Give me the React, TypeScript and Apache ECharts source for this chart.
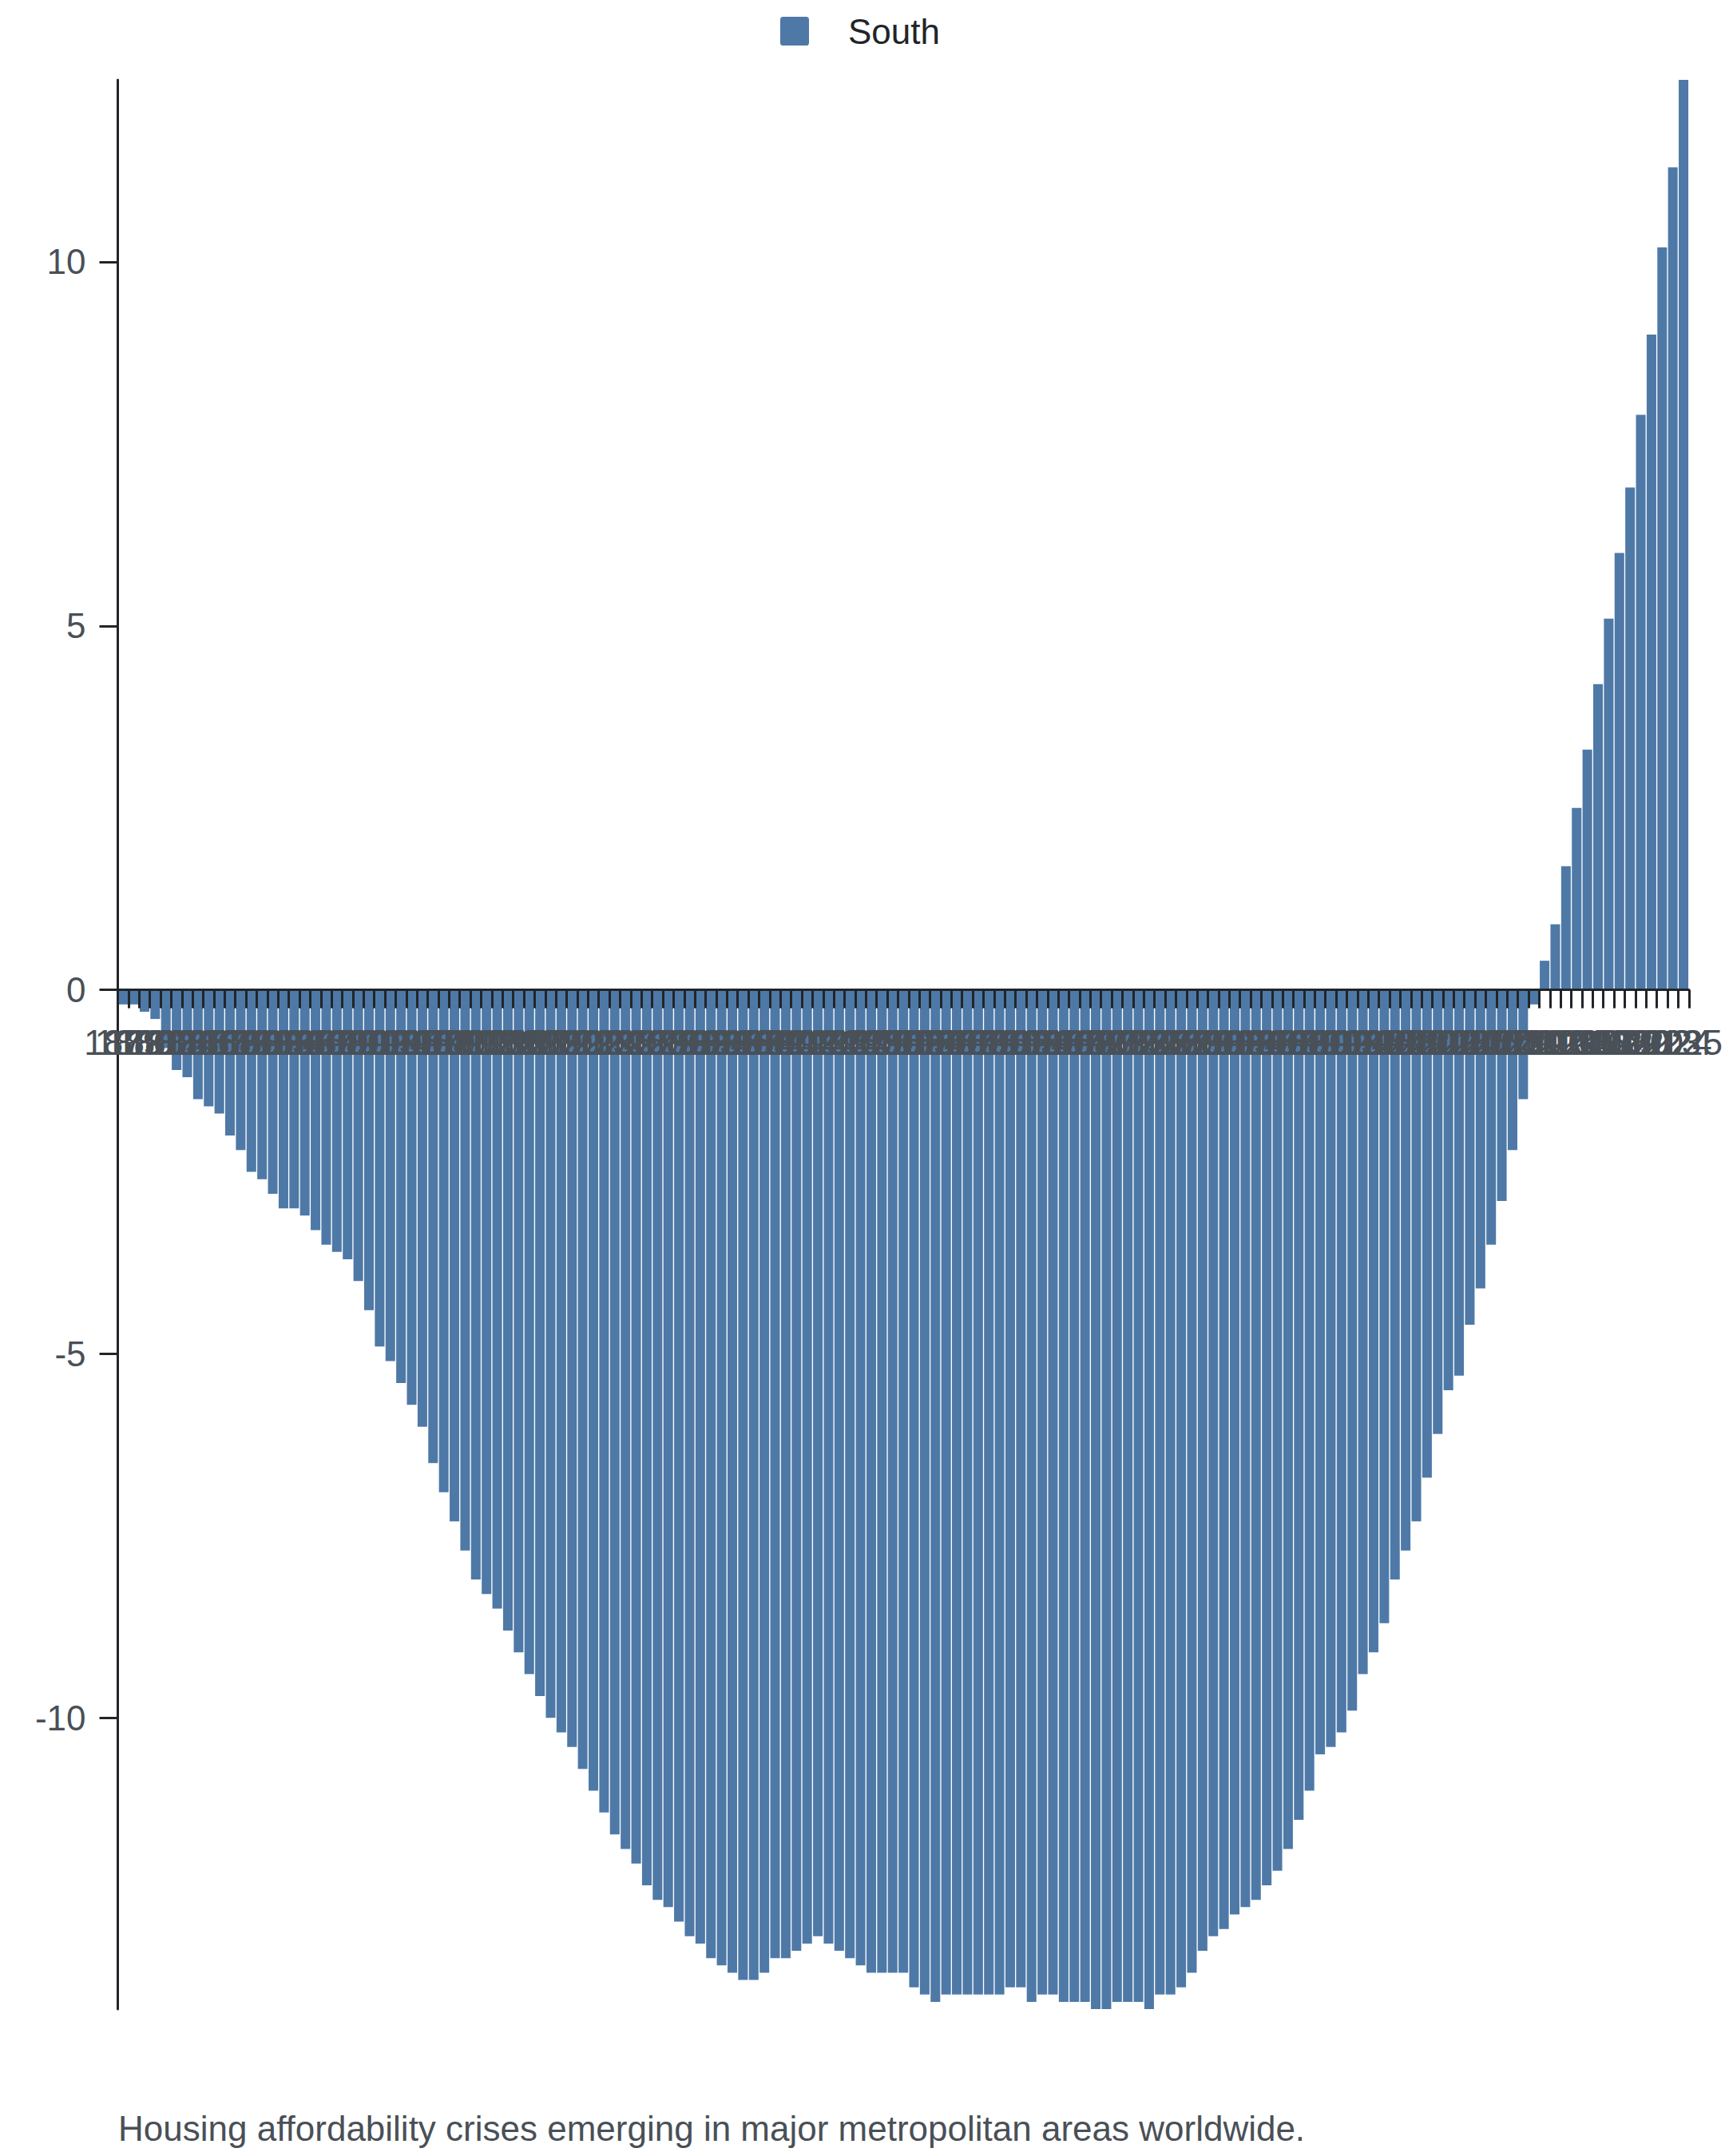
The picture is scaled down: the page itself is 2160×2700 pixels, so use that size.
import React, { useEffect, useRef } from "react";
import * as echarts from "echarts";

const FIRST_YEAR = 1879;

const southValues: number[] = [
  -0.2, -0.2, -0.3, -0.4, -0.8, -1.1, -1.2, -1.5, -1.6, -1.7,
  -2.0, -2.2, -2.5, -2.6, -2.8, -3.0, -3.0, -3.1, -3.3, -3.5,
  -3.6, -3.7, -4.0, -4.4, -4.9, -5.1, -5.4, -5.7, -6.0, -6.5,
  -6.9, -7.3, -7.7, -8.1, -8.3, -8.5, -8.8, -9.1, -9.4, -9.7,
  -10.0, -10.2, -10.4, -10.7, -11.0, -11.3, -11.6, -11.8, -12.0, -12.3,
  -12.5, -12.6, -12.8, -13.0, -13.1, -13.3, -13.4, -13.5, -13.6, -13.6,
  -13.5, -13.3, -13.3, -13.2, -13.1, -13.0, -13.1, -13.2, -13.3, -13.4,
  -13.5, -13.5, -13.5, -13.5, -13.7, -13.8, -13.9, -13.8, -13.8, -13.8,
  -13.8, -13.8, -13.8, -13.7, -13.7, -13.9, -13.8, -13.8, -13.9, -13.9,
  -13.9, -14.0, -14.0, -13.9, -13.9, -13.9, -14.0, -13.8, -13.8, -13.7,
  -13.5, -13.2, -13.0, -12.9, -12.7, -12.6, -12.5, -12.3, -12.1, -11.8,
  -11.4, -11.0, -10.5, -10.4, -10.2, -9.9, -9.4, -9.1, -8.7, -8.1,
  -7.7, -7.3, -6.7, -6.1, -5.5, -5.3, -4.6, -4.1, -3.5, -2.9,
  -2.2, -1.5, -0.2, 0.4, 0.9, 1.7, 2.5, 3.3, 4.2, 5.1,
  6.0, 6.9, 7.9, 9.0, 10.2, 11.3, 12.5,
];

const categories: string[] = southValues.map((_, i) => String(FIRST_YEAR + i));
const yTickValues: number[] = [-10, -5, 0, 5, 10];
const Y_MIN = -14;
const Y_MAX = 12.5;
const seriesName = "South";
const subtitle =
  "Housing affordability crises emerging in major metropolitan areas worldwide.";

const FONT = "'Liberation Sans', Arial, Helvetica, sans-serif";
const FONT_SIZE = 44;
const AXIS_COLOR = "#212529";
const LABEL_COLOR = "#495057";
const BAR_COLOR = "#4e79a7";

const GRID_TOP = 100;
const GRID_BOTTOM = 184;
const CHART_H = 2700;

export default function App() {
  const ref = useRef<HTMLDivElement>(null);

  useEffect(() => {
    document.body.style.margin = "0";
    if (!ref.current) return;
    const chart = echarts.init(ref.current, null, { renderer: "svg" });
    const gridH = CHART_H - GRID_TOP - GRID_BOTTOM;
    // move the category axis (line, ticks, labels) up to the zero line
    const zeroOffset = -(gridH * (0 - Y_MIN)) / (Y_MAX - Y_MIN);
    chart.setOption({
      animation: false,
      backgroundColor: "#ffffff",
      textStyle: { fontFamily: FONT },
      title: {
        text: subtitle,
        left: 143,
        top: 2638,
        textStyle: {
          fontFamily: FONT,
          fontSize: FONT_SIZE,
          fontWeight: "normal",
          color: LABEL_COLOR,
        },
      },
      legend: {
        data: [seriesName],
        top: 12,
        left: 972,
        itemWidth: 36,
        itemHeight: 36,
        icon: "path://M1,0H9A1,1,0,0,1,10,1V9A1,1,0,0,1,9,10H1A1,1,0,0,1,0,9V1A1,1,0,0,1,1,0Z",
        textStyle: {
          fontFamily: FONT,
          fontSize: FONT_SIZE,
          color: AXIS_COLOR,
          padding: [0, 0, 0, 44],
        },
      },
      grid: {
        left: 147.5,
        right: 41.5,
        top: GRID_TOP,
        bottom: GRID_BOTTOM,
        containLabel: false,
      },
      xAxis: {
        type: "category",
        data: categories,
        z: 10,
        offset: zeroOffset,
        axisLine: {
          onZero: false,
          lineStyle: { color: AXIS_COLOR, width: 3 },
        },
        axisTick: {
          show: true,
          length: 23,
          lineStyle: { color: AXIS_COLOR, width: 3 },
        },
        axisLabel: {
          interval: 0,
          hideOverlap: false,
          fontFamily: FONT,
          fontSize: FONT_SIZE,
          color: LABEL_COLOR,
          margin: 44,
        },
        splitLine: { show: false },
      },
      yAxis: {
        type: "value",
        min: Y_MIN,
        max: Y_MAX,
        z: 10,
        axisLine: {
          show: true,
          lineStyle: { color: AXIS_COLOR, width: 3 },
        },
        axisTick: {
          show: true,
          length: 23,
          customValues: yTickValues,
          lineStyle: { color: AXIS_COLOR, width: 3 },
        },
        axisLabel: {
          customValues: yTickValues,
          fontFamily: FONT,
          fontSize: FONT_SIZE,
          color: LABEL_COLOR,
          margin: 40,
        },
        splitLine: { show: false },
      },
      series: [
        {
          type: "bar",
          name: seriesName,
          data: southValues,
          barCategoryGap: "10%",
          itemStyle: { color: BAR_COLOR },
        },
      ],
    });
    return () => chart.dispose();
  }, []);

  return <div ref={ref} style={{ width: 2160, height: CHART_H }} />;
}
